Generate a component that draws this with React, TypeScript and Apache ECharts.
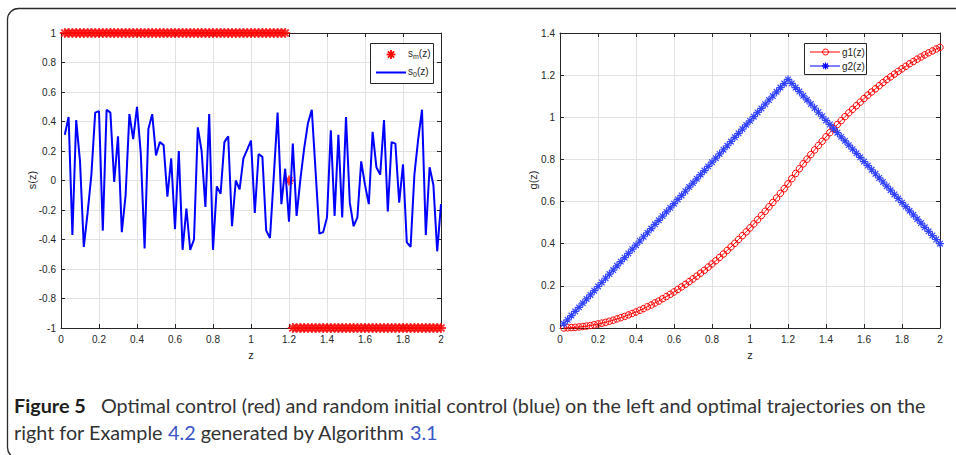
import React, { useEffect, useRef } from 'react';
import * as echarts from 'echarts';

// ---------- data ----------
const zValues = [
  0.02, 0.04, 0.06, 0.08, 0.10, 0.12, 0.14, 0.16, 0.18, 0.20,
  0.22, 0.24, 0.26, 0.28, 0.30, 0.32, 0.34, 0.36, 0.38, 0.40,
  0.42, 0.44, 0.46, 0.48, 0.50, 0.52, 0.54, 0.56, 0.58, 0.60,
  0.62, 0.64, 0.66, 0.68, 0.70, 0.72, 0.74, 0.76, 0.78, 0.80,
  0.82, 0.84, 0.86, 0.88, 0.90, 0.92, 0.94, 0.96, 0.98, 1.00,
  1.02, 1.04, 1.06, 1.08, 1.10, 1.12, 1.14, 1.16, 1.18, 1.20,
  1.22, 1.24, 1.26, 1.28, 1.30, 1.32, 1.34, 1.36, 1.38, 1.40,
  1.42, 1.44, 1.46, 1.48, 1.50, 1.52, 1.54, 1.56, 1.58, 1.60,
  1.62, 1.64, 1.66, 1.68, 1.70, 1.72, 1.74, 1.76, 1.78, 1.80,
  1.82, 1.84, 1.86, 1.88, 1.90, 1.92, 1.94, 1.96, 1.98, 2.00,
];

// optimal control s_m(z)
const smValues = [
  1, 1, 1, 1, 1, 1, 1, 1, 1, 1,
  1, 1, 1, 1, 1, 1, 1, 1, 1, 1,
  1, 1, 1, 1, 1, 1, 1, 1, 1, 1,
  1, 1, 1, 1, 1, 1, 1, 1, 1, 1,
  1, 1, 1, 1, 1, 1, 1, 1, 1, 1,
  1, 1, 1, 1, 1, 1, 1, 1, 1, 0,
  -1, -1, -1, -1, -1, -1, -1, -1, -1, -1,
  -1, -1, -1, -1, -1, -1, -1, -1, -1, -1,
  -1, -1, -1, -1, -1, -1, -1, -1, -1, -1,
  -1, -1, -1, -1, -1, -1, -1, -1, -1, -1,
];

// random initial control s_0(z)
const s0Values = [
  0.31, 0.43, -0.37, 0.41, 0.13, -0.45, -0.22, 0.04, 0.46, 0.47,
  -0.34, 0.48, 0.46, -0.01, 0.30, -0.35, -0.10, 0.45, 0.28, 0.50,
  0.18, -0.46, 0.35, 0.45, 0.17, 0.26, 0.24, -0.11, 0.15, -0.33,
  0.20, -0.47, -0.19, -0.47, -0.40, 0.36, 0.20, -0.18, 0.45, -0.47,
  -0.04, -0.09, 0.26, 0.30, -0.31, 0.00, -0.06, 0.15, 0.21, 0.27,
  -0.22, 0.18, 0.16, -0.34, -0.39, 0.03, 0.46, -0.16, 0.08, -0.28,
  0.25, -0.24, 0.01, 0.22, 0.39, 0.48, 0.06, -0.36, -0.35, -0.25,
  0.34, -0.24, 0.31, -0.25, 0.43, -0.15, -0.31, -0.25, 0.13, -0.03,
  -0.16, 0.33, 0.09, 0.04, 0.41, -0.21, 0.26, 0.25, -0.15, 0.11,
  -0.42, -0.45, 0.04, 0.28, 0.48, -0.37, 0.09, -0.03, -0.48, -0.16,
];

// optimal trajectories
const g1Values = [
  0.000, 0.001, 0.002, 0.003, 0.005, 0.007, 0.009, 0.012, 0.015, 0.019,
  0.023, 0.027, 0.032, 0.037, 0.043, 0.049, 0.055, 0.062, 0.069, 0.076,
  0.084, 0.092, 0.101, 0.109, 0.119, 0.128, 0.139, 0.149, 0.160, 0.171,
  0.183, 0.195, 0.207, 0.220, 0.233, 0.246, 0.260, 0.274, 0.289, 0.304,
  0.319, 0.335, 0.351, 0.368, 0.385, 0.402, 0.420, 0.438, 0.456, 0.475,
  0.494, 0.514, 0.534, 0.554, 0.575, 0.596, 0.617, 0.639, 0.661, 0.684,
  0.709, 0.733, 0.756, 0.779, 0.801, 0.823, 0.845, 0.866, 0.886, 0.907,
  0.927, 0.946, 0.966, 0.984, 1.003, 1.021, 1.038, 1.055, 1.072, 1.089,
  1.105, 1.120, 1.135, 1.150, 1.165, 1.179, 1.192, 1.205, 1.218, 1.230,
  1.242, 1.254, 1.265, 1.276, 1.286, 1.296, 1.306, 1.315, 1.324, 1.332,
];

const g2Values = [
  0.020, 0.039, 0.059, 0.079, 0.098, 0.118, 0.138, 0.157, 0.177, 0.197,
  0.216, 0.236, 0.256, 0.275, 0.295, 0.315, 0.334, 0.354, 0.374, 0.393,
  0.413, 0.433, 0.452, 0.472, 0.492, 0.511, 0.531, 0.551, 0.570, 0.590,
  0.610, 0.629, 0.649, 0.669, 0.688, 0.708, 0.728, 0.747, 0.767, 0.787,
  0.806, 0.826, 0.846, 0.865, 0.885, 0.905, 0.924, 0.944, 0.964, 0.983,
  1.003, 1.023, 1.042, 1.062, 1.082, 1.101, 1.121, 1.141, 1.160, 1.180,
  1.161, 1.141, 1.122, 1.102, 1.083, 1.063, 1.044, 1.024, 1.005, 0.985,
  0.966, 0.946, 0.927, 0.907, 0.888, 0.868, 0.849, 0.829, 0.810, 0.790,
  0.771, 0.751, 0.732, 0.712, 0.693, 0.673, 0.654, 0.634, 0.615, 0.595,
  0.576, 0.556, 0.537, 0.517, 0.498, 0.478, 0.459, 0.439, 0.420, 0.400,
];

const leftLegend = ['s_m(z)', 's_0(z)'];
const rightLegend = ['g1(z)', 'g2(z)'];
const captionLabel = 'Figure 5';
const captionLine1 = 'Optimal control (red) and random initial control (blue) on the left and optimal trajectories on the';
const captionLine2a = 'right for Example ';
const captionRef1 = '4.2';
const captionLine2b = ' generated by Algorithm ';
const captionRef2 = '3.1';

// ---------- styling ----------
const AX = '#262626';
const GRIDC = '#e2e2e2';
const FONT = 'Liberation Sans, Arial, Helvetica, sans-serif';
const CAPFONT = 'Lato, sans-serif';
const STAR = 'path://M5 0L5 10M0 5L10 5M1.5 1.5L8.5 8.5M8.5 1.5L1.5 8.5';

const fmt = (v: number) => String(Math.round(v * 10) / 10);

function axes(gridIndex: number, yMin: number, yMax: number) {
  const line = { show: true, onZero: false, lineStyle: { color: AX, width: 1 } };
  const tick = { show: true, inside: true, length: 4, lineStyle: { color: AX, width: 1 } };
  const label = { fontSize: 10, color: AX, fontFamily: FONT, formatter: fmt };
  const xs = [
    {
      type: 'value', gridIndex, min: 0, max: 2, interval: 0.2, position: 'bottom',
      axisLine: line, axisTick: tick, axisLabel: { ...label, margin: 6 },
      splitLine: { show: true, lineStyle: { color: GRIDC, width: 1 } },
    },
    {
      type: 'value', gridIndex, min: 0, max: 2, interval: 0.2, position: 'top',
      axisLine: line, axisTick: tick, axisLabel: { show: false }, splitLine: { show: false },
    },
  ];
  const ys = [
    {
      type: 'value', gridIndex, min: yMin, max: yMax, interval: 0.2, position: 'left',
      axisLine: line, axisTick: tick, axisLabel: { ...label, margin: 5 },
      splitLine: { show: true, lineStyle: { color: GRIDC, width: 1 } },
    },
    {
      type: 'value', gridIndex, min: yMin, max: yMax, interval: 0.2, position: 'right',
      axisLine: line, axisTick: tick, axisLabel: { show: false }, splitLine: { show: false },
    },
  ];
  return { xs, ys };
}

function starLines(cx: number, cy: number, r: number, color: string, w: number) {
  const d = r * 0.707;
  const segs = [
    [cx - r, cy, cx + r, cy],
    [cx, cy - r, cx, cy + r],
    [cx - d, cy - d, cx + d, cy + d],
    [cx - d, cy + d, cx + d, cy - d],
  ];
  return segs.map((s) => ({
    type: 'line', z: 100,
    shape: { x1: s[0], y1: s[1], x2: s[2], y2: s[3] },
    style: { stroke: color, lineWidth: w },
  }));
}

function subText(x: number, y: number, base: string, sub: string, rest: string) {
  return {
    type: 'text', x, y, z: 100,
    style: {
      text: `${base}{s|${sub}}${rest}`,
      fontSize: 10, fontFamily: FONT, fill: AX,
      verticalAlign: 'middle',
      rich: { s: { fontSize: 7, fontFamily: FONT, fill: AX, padding: [7, 0, 0, 0] } },
    },
  };
}

export default function App() {
  const ref = useRef<HTMLDivElement>(null);
  useEffect(() => {
    if (!ref.current) return;
    const chart = echarts.init(ref.current, null, { renderer: 'svg' });
    const a = axes(0, -1, 1);
    const b = axes(1, 0, 1.4);
    const pair = (vals: number[]) => zValues.map((z, i) => [z, vals[i]]);

    const sm = leftLegend[0].split('_');
    const s0 = leftLegend[1].split('_');
    const nameStyle = { fontSize: 11, fontFamily: FONT, fill: AX, align: 'center', verticalAlign: 'middle' };

    const graphic: any[] = [
      {
        type: 'rect', z: -10,
        shape: { x: 7.5, y: 8.5, width: 970, height: 450, r: 11 },
        style: { fill: 'none', stroke: '#2b2b2b', lineWidth: 1.3 },
      },
      { type: 'text', x: 32, y: 180, rotation: Math.PI / 2, style: { text: 's(z)', ...nameStyle } },
      { type: 'text', x: 251, y: 355, style: { text: 'z', ...nameStyle } },
      { type: 'text', x: 533, y: 180, rotation: Math.PI / 2, style: { text: 'g(z)', ...nameStyle } },
      { type: 'text', x: 750, y: 355, style: { text: 'z', ...nameStyle } },
      // left legend
      { type: 'rect', z: 99, shape: { x: 370.5, y: 43.5, width: 63, height: 40 }, style: { fill: '#fff', stroke: AX, lineWidth: 1 } },
      ...starLines(391, 54.5, 4.4, '#ff0000', 1.8),
      subText(408, 53, sm[0], sm[1].replace('(z)', ''), '(z)'),
      { type: 'line', z: 100, shape: { x1: 376, y1: 72.5, x2: 406, y2: 72.5 }, style: { stroke: '#0000ff', lineWidth: 2 } },
      subText(408, 71, s0[0], s0[1].replace('(z)', ''), '(z)'),
      // right legend
      { type: 'rect', z: 99, shape: { x: 804.5, y: 43.5, width: 62, height: 31 }, style: { fill: '#fff', stroke: AX, lineWidth: 1 } },
      { type: 'line', z: 100, shape: { x1: 810, y1: 52, x2: 840, y2: 52 }, style: { stroke: '#ff0000', lineWidth: 1 } },
      { type: 'circle', z: 100, shape: { cx: 825.5, cy: 52, r: 3 }, style: { fill: 'none', stroke: '#ff0000', lineWidth: 1 } },
      { type: 'text', x: 842, y: 52, z: 100, style: { text: rightLegend[0], fontSize: 10, fontFamily: FONT, fill: AX, verticalAlign: 'middle' } },
      { type: 'line', z: 100, shape: { x1: 810, y1: 66, x2: 840, y2: 66 }, style: { stroke: '#0000ff', lineWidth: 1 } },
      ...starLines(825.5, 66, 3.5, '#0000ff', 1.2),
      { type: 'text', x: 842, y: 66, z: 100, style: { text: rightLegend[1], fontSize: 10, fontFamily: FONT, fill: AX, verticalAlign: 'middle' } },
      // caption
      {
        type: 'text', x: 14, y: 405,
        style: {
          text: `{b|${captionLabel}}   ${captionLine1}`,
          fontSize: 19.8, fontFamily: CAPFONT, fill: '#333333', verticalAlign: 'middle',
          rich: { b: { fontSize: 19.8, fontWeight: 'bold', fontFamily: CAPFONT, fill: '#1e1e1e' } },
        },
      },
      {
        type: 'text', x: 14, y: 432,
        style: {
          text: `${captionLine2a}{l|${captionRef1}}${captionLine2b}{l|${captionRef2}}`,
          fontSize: 19.8, fontFamily: CAPFONT, fill: '#333333', verticalAlign: 'middle',
          rich: { l: { fontSize: 19.8, fontFamily: CAPFONT, fill: '#3a56c8' } },
        },
      },
    ];

    chart.setOption({
      animation: false,
      backgroundColor: '#ffffff',
      grid: [
        { left: 61, top: 33, width: 380, height: 295, containLabel: false },
        { left: 560, top: 33, width: 380, height: 295, containLabel: false },
      ],
      xAxis: [...a.xs, ...b.xs],
      yAxis: [...a.ys, ...b.ys],
      graphic,
      series: [
        {
          name: leftLegend[0], type: 'scatter', xAxisIndex: 0, yAxisIndex: 0, clip: false,
          data: pair(smValues), symbol: STAR, symbolSize: 10,
          itemStyle: { color: '#ff0000', borderColor: '#ff0000', borderWidth: 1.8 },
          z: 2,
        },
        {
          name: leftLegend[1], type: 'line', xAxisIndex: 0, yAxisIndex: 0,
          data: pair(s0Values), symbol: 'none', showSymbol: false,
          lineStyle: { color: '#0000ff', width: 2 }, z: 3,
        },
        {
          name: rightLegend[0], type: 'line', xAxisIndex: 2, yAxisIndex: 2, clip: false,
          data: pair(g1Values), symbol: 'circle', symbolSize: 6.5, showAllSymbol: true,
          lineStyle: { color: '#ff0000', width: 1 },
          itemStyle: { color: 'rgba(255,0,0,0)', borderColor: '#ff0000', borderWidth: 1 },
          z: 3,
        },
        {
          name: rightLegend[1], type: 'line', xAxisIndex: 2, yAxisIndex: 2, clip: false,
          data: pair(g2Values), symbol: STAR, symbolSize: 8, showAllSymbol: true,
          lineStyle: { color: '#0000ff', width: 1.5 },
          itemStyle: { color: '#0000ff', borderColor: '#3344ff', borderWidth: 1.2 },
          z: 3,
        },
      ],
    });
    return () => chart.dispose();
  }, []);
  return <div ref={ref} style={{ position: 'fixed', left: 0, top: 0, width: 956, height: 455, background: '#fff' }} />;
}
